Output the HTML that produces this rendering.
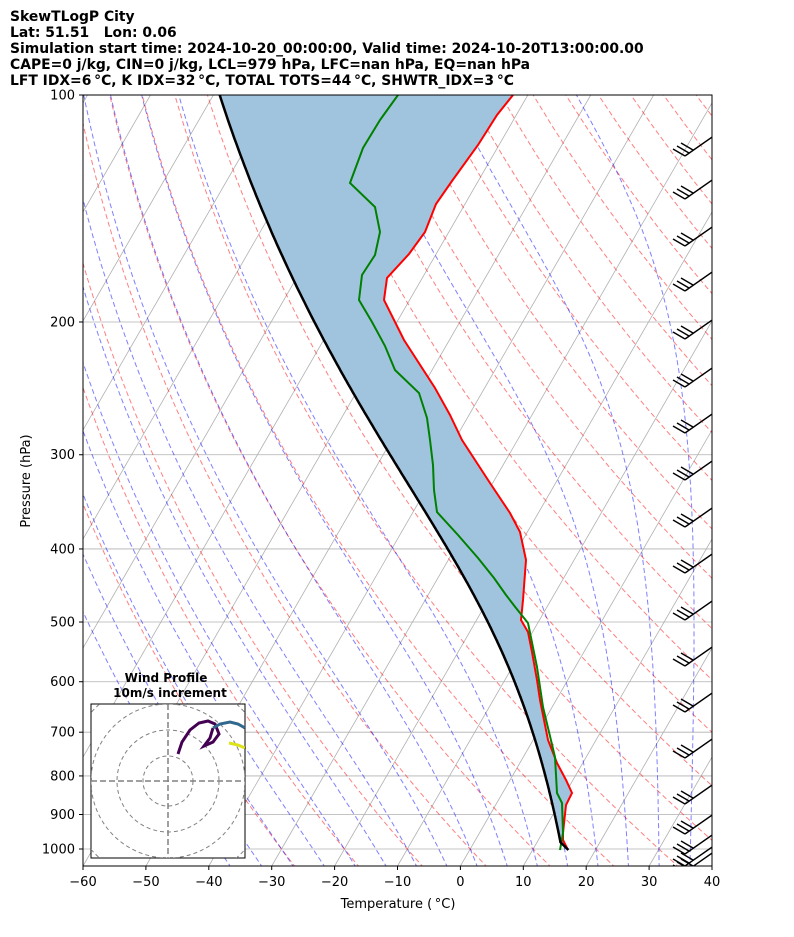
<!DOCTYPE html>
<html><head><meta charset="utf-8"><style>
body{margin:0;background:#fff;}
svg{display:block;font-family:"DejaVu Sans","Liberation Sans",sans-serif;}
text{white-space:pre;}
</style></head><body>
<svg id="s" width="794" height="937" xmlns="http://www.w3.org/2000/svg">
<defs><clipPath id="c"><rect x="83" y="95" width="629" height="771"/></clipPath>
<clipPath id="c2"><rect x="91" y="704" width="154" height="154"/></clipPath></defs>
<g font-weight="bold" font-size="13.9" fill="#000">
<text x="10" y="21">SkewTLogP City</text>
<text x="10" y="37" xml:space="preserve">Lat: 51.51   Lon: 0.06</text>
<text x="10" y="53">Simulation start time: 2024-10-20_00:00:00, Valid time: 2024-10-20T13:00:00.00</text>
<text x="10" y="69">CAPE=0 j/kg, CIN=0 j/kg, LCL=979 hPa, LFC=nan hPa, EQ=nan hPa</text>
<text x="10" y="85">LFT IDX=6 °C</text>
</g>
<g id="plot" clip-path="url(#c)"></g>
<g id="ax"></g>
</svg>
<script>
const NS="http://www.w3.org/2000/svg";
const S=document.getElementById('s'),P=document.getElementById('plot'),AX=document.getElementById('ax');
document.querySelectorAll('text')[4].textContent="LFT IDX=6\u2009\u00B0C, K IDX=32\u2009\u00B0C, TOTAL TOTS=44\u2009\u00B0C, SHWTR_IDX=3\u2009\u00B0C";
function el(t,a,par){const e=document.createElementNS(NS,t);for(const k in a)e.setAttribute(k,a[k]);(par||P).appendChild(e);return e;}
function Y(p){return 95+754*Math.log10(p/100);}
function X(T,p){return 83+6.29*(T+60)+0.577*(866-Y(p));}
function path(pts){return 'M'+pts.map(q=>q[0].toFixed(1)+','+q[1].toFixed(1)).join('L');}
for(let T=-200;T<=60;T+=10){el('line',{x1:X(T,1053),y1:866,x2:X(T,100),y2:95,stroke:'#b0b0b0','stroke-width':0.8});}
for(let p=100;p<=1000;p+=100){el('line',{x1:83,x2:712,y1:Y(p),y2:Y(p),stroke:'#b0b0b0','stroke-width':0.8});}
for(let t=-30;t<=200;t+=10){const th=t+273.15;const pts=[];for(let p=1060;p>=95;p-=10){pts.push([X(th*Math.pow(p/1000,0.2857)-273.15,p),Y(p)]);}
el('path',{d:path(pts),fill:'none',stroke:'red','stroke-opacity':0.5,'stroke-width':1,'stroke-dasharray':'5,3'});}
const Rd=287.04,Cp=1005.7,Lv=2.501e6,eps=0.622;
function es(Tc){return 6.112*Math.exp(17.67*Tc/(Tc+243.5));}
function dTdp(T,p){const Tc=T-273.15;const e=es(Tc);const rs=eps*e/(p-e);return (Rd*T+Lv*rs)/(Cp+Lv*Lv*rs*eps/(Rd*T*T))/p;}
function moist(T0,p0,p1,dp){const out=[];let T=T0+273.15,p=p0;const n=Math.round(Math.abs(p1-p0)/dp);const h=(p1-p0)/n;out.push([T-273.15,p]);
for(let i=0;i<n;i++){const k1=dTdp(T,p),k2=dTdp(T+h/2*k1,p+h/2),k3=dTdp(T+h/2*k2,p+h/2),k4=dTdp(T+h*k3,p+h);T+=h/6*(k1+2*k2+2*k3+k4);p+=h;out.push([T-273.15,p]);}return out;}
for(let t=-40;t<=45;t+=5){const a=moist(t,1000,95,2),b=moist(t,1000,1060,2);const pts=b.reverse().concat(a).map(q=>[X(q[0],q[1]),Y(q[1])]);
el('path',{d:path(pts),fill:'none',stroke:'blue','stroke-opacity':0.5,'stroke-width':1,'stroke-dasharray':'5,3'});}
const ps=1003,Ts=15.7,plcl=979;const Tl=(Ts+273.15)*Math.pow(plcl/ps,0.2857)-273.15;
const par=[[X(Ts,ps),Y(ps)]].concat(moist(Tl,plcl,100,2).map(q=>[X(q[0],q[1]),Y(q[1])]));
const red=[[513,95],[497,115],[478,145],[452,181],[436,204],[425,232],[409,254],[387,278],[384,300],[404,340],[435,388],[450,415],[462,440],[490,483],[510,513],[520,532],[526,560],[523,600],[521,620],[528,632],[532,652],[537,680],[540,700],[544,720],[548,740],[557,763],[566,780],[572,793],[566,805],[563,833],[563,840],[568,850]];
const grn=[[398,95],[380,120],[363,148],[350,183],[375,207],[380,232],[375,255],[362,275],[359,300],[372,322],[385,346],[395,370],[419,393],[427,418],[430,440],[433,465],[434,490],[437,512],[458,535],[478,558],[494,578],[506,595],[516,608],[528,623],[537,667],[543,707],[555,757],[557,793],[562,803],[563,833],[560,850]];
el('path',{d:path(par.concat(red))+'Z',fill:'#a1c4de',stroke:'none'});
el('path',{d:path(red),fill:'none',stroke:'red','stroke-width':2});
el('path',{d:path(grn),fill:'none',stroke:'green','stroke-width':2});
el('path',{d:path(par),fill:'none',stroke:'#000','stroke-width':2.5});
const by=[150,193,240,285,333,381,427,474,521,567,614,660,706,752,798,828,848,860,866];
by.forEach((y,i)=>{const x0=685,y0=y+6;const g=el('g',{stroke:'#000','stroke-width':1.4,fill:'none'});
el('line',{x1:x0,y1:y0,x2:x0+40,y2:y0-28},g);
for(let k=0;k<3;k++){const sx=x0+k*4,sy=y0-k*3;el('line',{x1:sx,y1:sy,x2:sx-12,y2:sy-7},g);}});
el('rect',{x:83,y:95,width:629,height:771,fill:'none',stroke:'#000','stroke-width':1},AX);
for(let p=100;p<=1000;p+=100){const y=Y(p);el('line',{x1:79,x2:83,y1:y,y2:y,stroke:'#000'},AX);const t=el('text',{x:75,y:y+4.5,'text-anchor':'end','font-size':13},AX);t.textContent=p;}
for(let T=-60;T<=40;T+=10){const x=83+6.29*(T+60);el('line',{x1:x,x2:x,y1:866,y2:870,stroke:'#000'},AX);const t=el('text',{x:x,y:886,'text-anchor':'middle','font-size':13},AX);t.textContent=(T<0?'\u2212'+(-T):T);}
let t=el('text',{x:398,y:908,'text-anchor':'middle','font-size':13},AX);t.textContent='Temperature (\u2009\u00B0C)';
t=el('text',{x:30,y:481,'text-anchor':'middle','font-size':13,transform:'rotate(-90 30 481)'},AX);t.textContent='Pressure (hPa)';
el('rect',{x:91,y:704,width:154,height:154,fill:'#fff',stroke:'#000'},AX);
const ig=el('g',{'clip-path':'url(#c2)'},AX);
[25,51,77,103].forEach(r=>el('circle',{cx:168,cy:781,r:r,fill:'none',stroke:'#808080','stroke-dasharray':'4,3','stroke-width':1},ig));
el('line',{x1:91,x2:245,y1:781,y2:781,stroke:'#808080','stroke-width':1.5,'stroke-dasharray':'6,3'},ig);
el('line',{x1:168,x2:168,y1:704,y2:858,stroke:'#808080','stroke-width':1.5,'stroke-dasharray':'6,3'},ig);
el('path',{d:'M178,754L182,742L190,730L199,723L208,721L215,724L219,734L213,742L204,746L210,738L213,728',fill:'none',stroke:'#440154','stroke-width':3},ig);
el('path',{d:'M213,728L220,724L230,722L238,724L245,728',fill:'none',stroke:'#31688e','stroke-width':3},ig);
el('path',{d:'M229,743L238,745L245,748',fill:'none',stroke:'#dde318','stroke-width':3},ig);
t=el('text',{x:166,y:682,'text-anchor':'middle','font-size':12,'font-weight':'bold'},AX);t.textContent='Wind Profile';
t=el('text',{x:170,y:697,'text-anchor':'middle','font-size':12,'font-weight':'bold'},AX);t.textContent='10m/s increment';
</script>
</body></html>
